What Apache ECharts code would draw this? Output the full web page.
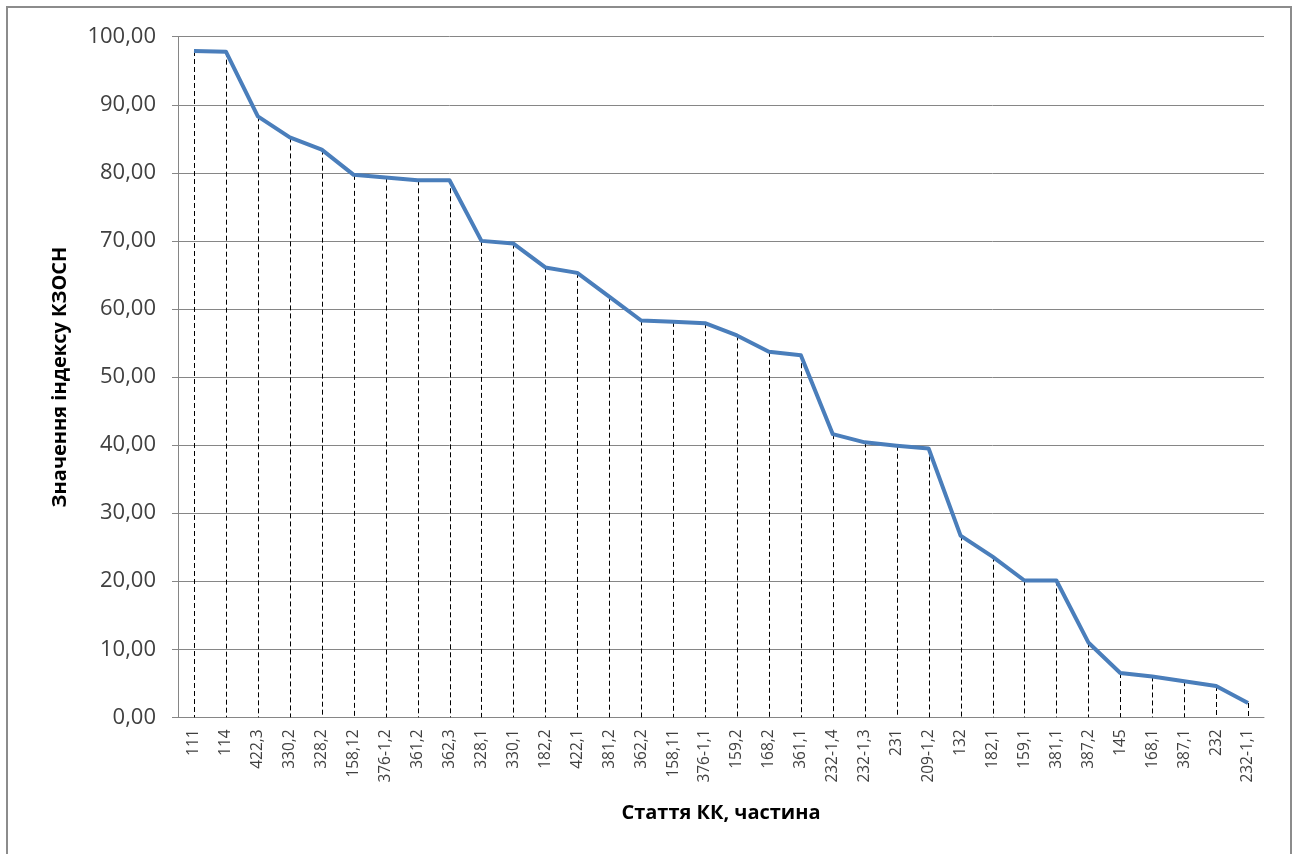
<!DOCTYPE html>
<html>
<head>
<meta charset="utf-8">
<title>Значення індексу КЗОСН</title>
<script src="https://cdn.jsdelivr.net/npm/echarts@6/dist/echarts.min.js"></script>
<style>
  html, body { margin: 0; padding: 0; background: #ffffff; }
  #chart { width: 1298px; height: 854px; }
</style>
</head>
<body>
<div id="chart"></div>
<script>
// Articles of the Criminal Code (article, part)
const categories = [
  '111', '114', '422,3', '330,2', '328,2', '158,12', '376-1,2', '361,2', '362,3',
  '328,1', '330,1', '182,2', '422,1', '381,2', '362,2', '158,11', '376-1,1',
  '159,2', '168,2', '361,1', '232-1,4', '232-1,3', '231', '209-1,2', '132',
  '182,1', '159,1', '381,1', '387,2', '145', '168,1', '387,1', '232', '232-1,1'
];

// Index values per article
const indexValues = [
  97.9, 97.8, 88.3, 85.2, 83.4, 79.7, 79.3, 78.9, 78.9,
  70.0, 69.6, 66.1, 65.3, 61.8, 58.3, 58.1, 57.9,
  56.1, 53.7, 53.2, 41.6, 40.4, 39.9, 39.5, 26.7,
  23.6, 20.1, 20.1, 11.0, 6.5, 6.0, 5.3, 4.6, 2.1
];

// Value axis ticks
const yMin = 0;
const yMax = 100;
const yStep = 10;

const chart = echarts.init(document.getElementById('chart'));

const fmt = v => v.toFixed(2).replace('.', ',');

chart.setOption({
  animation: false,
  backgroundColor: '#ffffff',
  graphic: [{
    type: 'rect',
    shape: { x: 7, y: 7, width: 1284, height: 900 },
    style: { fill: 'none', stroke: '#8c8c8c', lineWidth: 2 },
    silent: true,
    z: 100
  }],
  grid: { left: 178, right: 34, top: 36.7, bottom: 136.7 },
  xAxis: {
    type: 'category',
    data: categories,
    boundaryGap: true,
    name: 'Стаття КК, частина',
    nameLocation: 'middle',
    nameGap: 86,
    nameTextStyle: { fontFamily: 'Open Sans', fontSize: 20, fontWeight: 'bold', color: '#000000' },
    axisLine: { show: true, lineStyle: { color: '#868686', width: 1 } },
    axisTick: { show: false },
    axisLabel: {
      interval: 0,
      rotate: 90,
      margin: 12,
      fontFamily: 'Open Sans',
      fontSize: 15.5,
      color: '#404040'
    },
    splitLine: { show: false }
  },
  yAxis: {
    type: 'value',
    min: yMin,
    max: yMax,
    interval: yStep,
    name: 'Значення індексу КЗОСН',
    nameLocation: 'middle',
    nameGap: 108,
    nameRotate: 90,
    nameTextStyle: { fontFamily: 'Open Sans', fontSize: 20, fontWeight: 'bold', color: '#000000' },
    axisLine: { show: true, lineStyle: { color: '#868686', width: 1 } },
    axisTick: { show: true, inside: false, length: 6, lineStyle: { color: '#868686' } },
    axisLabel: {
      margin: 22,
      formatter: fmt,
      fontFamily: 'Open Sans',
      fontSize: 22,
      color: '#404040'
    },
    splitLine: { show: true, lineStyle: { color: '#868686', width: 1 } }
  },
  series: [
    {
      // dashed drop lines from each point to the category axis
      type: 'custom',
      silent: true,
      z: 2,
      data: indexValues.map((v, i) => [i, v]),
      renderItem: function (params, api) {
        const top = api.coord([api.value(0), api.value(1)]);
        const bottom = api.coord([api.value(0), 0]);
        const x = Math.round(top[0]) + 0.5;
        return {
          type: 'line',
          shape: { x1: x, y1: top[1], x2: x, y2: bottom[1] },
          style: { stroke: '#000000', lineWidth: 1, lineDash: [5, 3] }
        };
      }
    },
    {
      type: 'line',
      data: indexValues,
      z: 3,
      symbol: 'none',
      lineStyle: { color: '#4a7ebb', width: 4, join: 'round' },
      itemStyle: { color: '#4a7ebb' }
    }
  ]
});
</script>
</body>
</html>
